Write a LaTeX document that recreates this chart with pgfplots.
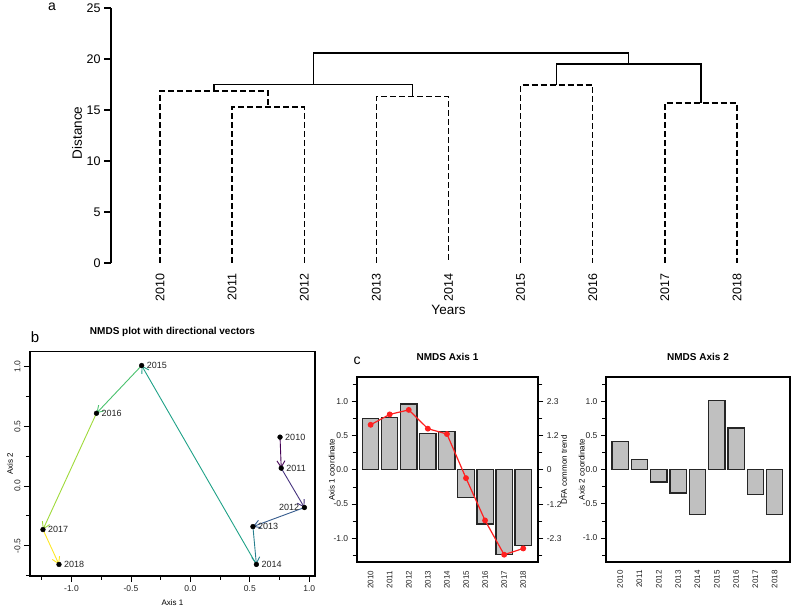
\documentclass[border=0pt]{standalone}
\usepackage{pgfplots}
\pgfplotsset{compat=1.18}
\usepackage{fontspec}
\setmainfont{Liberation Sans}
\usetikzlibrary{arrows.meta}
\definecolor{vA}{HTML}{440154}
\definecolor{vB}{HTML}{46337E}
\definecolor{vC}{HTML}{365C8D}
\definecolor{vD}{HTML}{277F8E}
\definecolor{vE}{HTML}{1FA187}
\definecolor{vF}{HTML}{4AC16D}
\definecolor{vG}{HTML}{9FDA3A}
\definecolor{vH}{HTML}{FDE725}
\definecolor{bargray}{HTML}{C0C0C0}
\definecolor{trendred}{HTML}{FF2020}
\definecolor{txt}{HTML}{222222}
\pgfplotsset{/pgf/number format/assume math mode=true}
\tikzset{vec/.style={line width=0.9pt,-{Straight Barb[length=6.5pt,width=8pt]}}}
\begin{document}
\begin{tikzpicture}
\path[use as bounding box] (0pt,0pt) rectangle (793pt,608pt);
\node[font=\fontsize{14}{16}\selectfont] at (52pt,601pt) {a};
\node[font=\fontsize{15}{17}\selectfont] at (35pt,271pt) {b};
\node[font=\fontsize{14}{16}\selectfont] at (357pt,247pt) {c};

% ---------------- panel a : dendrogram
\begin{axis}[
  at={(111pt,345pt)}, anchor=south west, scale only axis,
  width=675pt, height=255pt,
  xmin=0.3206, xmax=9.68, ymin=0, ymax=25,
  axis lines*=left,
  x axis line style={draw=none},
  y axis line style={line width=1.1pt},
  xtick={1,2,3,4,5,6,7,8,9},
  xticklabels={2010,2011,2012,2013,2014,2015,2016,2017,2018},
  xtick style={draw=none},
  xticklabel style={rotate=90, anchor=east, font=\fontsize{12.5}{14}\selectfont},
  ytick={0,5,10,15,20,25},
  ytick style={line width=1.1pt, black},
  tick align=outside, major tick length=7pt,
  yticklabel style={font=\fontsize{12.5}{14}\selectfont},
  xlabel={Years}, ylabel={Distance},
  xlabel style={at={(axis description cs:0.5,-0.184)}, anchor=center, font=\fontsize{13.5}{15}\selectfont},
  ylabel style={at={(axis description cs:-0.0504,0.51)}, anchor=center, font=\fontsize{13.5}{15}\selectfont},
  clip=false,
]
\addplot[black, line width=1.4pt, dash pattern=on 6pt off 3pt] coordinates {(2,0) (2,15.3) (3,15.3) (3,0)};
\addplot[black, line width=1.4pt, dash pattern=on 6pt off 3pt] coordinates {(1,0) (1,16.85) (2.5,16.85) (2.5,15.3)};
\addplot[black, line width=1.4pt, dash pattern=on 6pt off 3pt] coordinates {(4,0) (4,16.3) (5,16.3) (5,0)};
\addplot[black, line width=1.4pt, dash pattern=on 6pt off 3pt] coordinates {(6,0) (6,17.45) (7,17.45) (7,0)};
\addplot[black, line width=1.4pt, dash pattern=on 6pt off 3pt] coordinates {(8,0) (8,15.7) (9,15.7) (9,0)};
\addplot[black, line width=1.4pt] coordinates {(1.75,16.85) (1.75,17.5) (4.5,17.5) (4.5,16.3)};
\addplot[black, line width=1.4pt] coordinates {(6.5,17.45) (6.5,19.5) (8.5,19.5) (8.5,15.7)};
\addplot[black, line width=1.4pt] coordinates {(3.125,17.5) (3.125,20.6) (7.5,20.6) (7.5,19.5)};
\end{axis}

% ---------------- panel b : NMDS
\begin{axis}[
  at={(30pt,32pt)}, anchor=south west, scale only axis,
  width=285pt, height=224.3pt,
  xmin=-1.349, xmax=1.048, ymin=-0.754, ymax=1.126,
  axis line style={line width=1.6pt},
  tick pos=left, tick align=outside,
  major tick length=6pt, minor tick length=4pt,
  xtick={-1,-0.5,0,0.5,1}, ytick={-0.5,0,0.5,1},
  minor xtick={-1.25,-0.75,-0.25,0.25,0.75},
  minor ytick={-0.75,-0.25,0.25,0.75},
  every tick/.style={black, line width=0.8pt},
  tick label style={font=\fontsize{8.5}{10}\selectfont, text=txt,
    /pgf/number format/fixed, /pgf/number format/fixed zerofill, /pgf/number format/precision=1},
  yticklabel style={rotate=90, anchor=south},
  title={NMDS plot with directional vectors},
  title style={font=\bfseries\fontsize{10}{12}\selectfont, at={(axis description cs:0.5,1)}, anchor=center, yshift=13.7pt},
  xlabel={Axis 1}, ylabel={Axis 2},
  xlabel style={at={(axis description cs:0.5,-0.119)}, anchor=center, font=\fontsize{8}{9}\selectfont},
  ylabel style={at={(axis description cs:-0.070,0.5)}, anchor=center, font=\fontsize{8}{9}\selectfont},
]
\addplot[vA, vec] coordinates {(0.754,0.41) (0.764,0.15)};
\addplot[vB, vec] coordinates {(0.764,0.15) (0.959,-0.18)};
\addplot[vC, vec] coordinates {(0.959,-0.18) (0.526,-0.34)};
\addplot[vD, vec] coordinates {(0.526,-0.34) (0.555,-0.657)};
\addplot[vE, vec] coordinates {(0.555,-0.657) (-0.41,1.01)};
\addplot[vF, vec] coordinates {(-0.41,1.01) (-0.79,0.61)};
\addplot[vG, vec] coordinates {(-0.79,0.61) (-1.24,-0.365)};
\addplot[vH, vec] coordinates {(-1.24,-0.365) (-1.105,-0.657)};
\addplot[only marks, mark=*, mark size=2.4pt, black,
  nodes near coords, point meta=explicit symbolic,
  every node near coord/.append style={anchor=west, xshift=4pt, inner sep=1pt, font=\fontsize{9}{10}\selectfont, text=txt}]
  table[meta=label, row sep=\\] {
  x y label\\
  0.754 0.41 2010\\
  0.764 0.15 2011\\
  0.526 -0.34 2013\\
  0.555 -0.657 2014\\
  -0.41 1.01 2015\\
  -0.79 0.61 2016\\
  -1.24 -0.365 2017\\
  -1.105 -0.657 2018\\
  };
\addplot[only marks, mark=*, mark size=2.4pt, black,
  nodes near coords, point meta=explicit symbolic,
  every node near coord/.append style={anchor=east, xshift=-4pt, inner sep=1pt, font=\fontsize{9}{10}\selectfont, text=txt}]
  table[meta=label, row sep=\\] {
  x y label\\
  0.959 -0.18 2012\\
  };
\end{axis}

% ---------------- panel c : NMDS Axis 1 bars
\begin{axis}[
  at={(356.7pt,45.7pt)}, anchor=south west, scale only axis,
  width=181.6pt, height=185pt,
  xmin=-0.73, xmax=8.79, ymin=-1.35, ymax=1.35,
  axis line style={line width=1.6pt},
  ytick pos=left, tick align=outside,
  major tick length=5pt, minor tick length=4pt,
  xtick={0,1,2,3,4,5,6,7,8},
  xticklabels={2010,2011,2012,2013,2014,2015,2016,2017,2018},
  xtick style={draw=none},
  xticklabel style={rotate=90, anchor=east, font=\fontsize{8}{9}\selectfont, text=txt},
  ytick={-1,-0.5,0,0.5,1},
  minor ytick={-1.25,-0.75,-0.25,0.25,0.75,1.25},
  ytick style={black, line width=0.8pt},
  yticklabel style={font=\fontsize{8.5}{10}\selectfont, text=txt,
    /pgf/number format/fixed, /pgf/number format/fixed zerofill, /pgf/number format/precision=1},
  title={NMDS Axis 1},
  title style={font=\bfseries\fontsize{10}{12}\selectfont, at={(axis description cs:0.5,1)}, anchor=center, yshift=14.3pt},
  ylabel={Axis 1 coordinate},
  ylabel style={at={(axis description cs:-0.138,0.5)}, anchor=center, font=\fontsize{8}{9}\selectfont},
]
\addplot[ybar, bar width=16.3pt, fill=bargray, draw=black!85, line width=1.2pt]
  coordinates {(0,0.754) (1,0.764) (2,0.959) (3,0.526) (4,0.555) (5,-0.41) (6,-0.79) (7,-1.24) (8,-1.105)};
\end{axis}
\begin{axis}[
  at={(356.7pt,45.7pt)}, anchor=south west, scale only axis,
  width=181.6pt, height=185pt,
  xmin=-0.73, xmax=8.79, ymin=-3.105, ymax=3.105,
  axis x line=none, axis y line*=right,
  y axis line style={line width=1.6pt},
  tick align=outside, major tick length=5pt, minor tick length=4pt,
  ytick={-2.3,-1.15,0,1.15,2.3}, yticklabels={-2.3,-1.2,0,1.2,2.3},
  minor ytick={-2.875,-1.725,-0.575,0.575,1.725,2.875},
  ytick style={black, line width=0.8pt},
  yticklabel style={font=\fontsize{8.5}{10}\selectfont, text=txt},
  ylabel={DFA common trend},
  ylabel style={at={(axis description cs:1.1415,0.5)}, anchor=center, font=\fontsize{8}{9}\selectfont},
]
\addplot[trendred, line width=1.2pt, mark=*, mark size=2.3pt, mark options={fill=trendred}]
  coordinates {(0,1.51) (1,1.86) (2,2.01) (3,1.38) (4,1.20) (5,-0.28) (6,-1.70) (7,-2.85) (8,-2.64)};
\end{axis}

% ---------------- panel c : NMDS Axis 2 bars
\begin{axis}[
  at={(606pt,46pt)}, anchor=south west, scale only axis,
  width=184pt, height=184.7pt,
  xmin=-0.73, xmax=8.79, ymin=-1.35, ymax=1.35,
  axis line style={line width=1.6pt},
  ytick pos=left, tick align=outside,
  major tick length=5pt, minor tick length=4pt,
  xtick={0,1,2,3,4,5,6,7,8},
  xticklabels={2010,2011,2012,2013,2014,2015,2016,2017,2018},
  xtick style={draw=none},
  xticklabel style={rotate=90, anchor=east, font=\fontsize{8}{9}\selectfont, text=txt},
  ytick={-1,-0.5,0,0.5,1},
  minor ytick={-1.25,-0.75,-0.25,0.25,0.75,1.25},
  ytick style={black, line width=0.8pt},
  yticklabel style={font=\fontsize{8.5}{10}\selectfont, text=txt,
    /pgf/number format/fixed, /pgf/number format/fixed zerofill, /pgf/number format/precision=1},
  title={NMDS Axis 2},
  title style={font=\bfseries\fontsize{10}{12}\selectfont, at={(axis description cs:0.5,1)}, anchor=center, yshift=14.3pt},
  ylabel={Axis 2 coordinate},
  ylabel style={at={(axis description cs:-0.132,0.5)}, anchor=center, font=\fontsize{8}{9}\selectfont},
]
\addplot[ybar, bar width=16.3pt, fill=bargray, draw=black!85, line width=1.2pt]
  coordinates {(0,0.41) (1,0.146) (2,-0.18) (3,-0.34) (4,-0.657) (5,1.01) (6,0.61) (7,-0.365) (8,-0.657)};
\end{axis}
\end{tikzpicture}
\end{document}
